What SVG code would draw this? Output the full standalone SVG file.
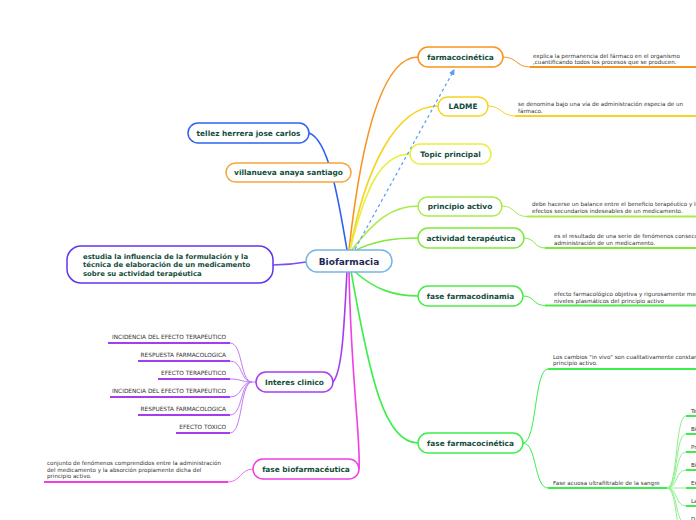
<svg xmlns="http://www.w3.org/2000/svg" width="696" height="520" viewBox="0 0 696 520">
<defs>
<marker id="arr" markerWidth="6" markerHeight="6" refX="5" refY="3" orient="auto" markerUnits="userSpaceOnUse">
<path d="M0,0 L6,3 L0,6 z" fill="#5b9cf0"/>
</marker>
<style>
.n{fill:#fff;stroke-width:1.5}
.t{font-family:"DejaVu Sans",Verdana,sans-serif;font-weight:bold;font-size:7.4px;fill:#124d3a;text-anchor:middle}
.d{font-family:"DejaVu Sans",Verdana,sans-serif;font-size:5.6px;fill:#333}
.c{fill:none;stroke-width:1.6;stroke-linecap:round}
.u{fill:none;stroke-width:2}
.s{fill:none;stroke-width:1}
</style>
</defs>
<rect width="696" height="520" fill="#fff"/>
<g id="connectors">
<path class="c" d="M349,250 C360,150 380,57 418,57" stroke="#f7941d"/>
<path class="c" d="M350,250 C365,170 395,106 438,106" stroke="#f5d320"/>
<path class="c" d="M350,250 C365,190 380,154 410,154" stroke="#e6f040"/>
<path class="c" d="M351,251 C375,220 392,206 418,206" stroke="#a8ec4a"/>
<path class="c" d="M352,252 C375,240 395,238 418,238" stroke="#7eea3a"/>
<path class="c" d="M354,271 C375,290 395,296 418,296" stroke="#4cea48"/>
<path class="c" d="M351,271 C370,380 385,443 418,443" stroke="#3cee4c"/>
<path class="c" d="M349,271 C351,380 361,440 359,469" stroke="#f03ee4"/>
<path class="c" d="M347,271 C344,330 342,372 333,382" stroke="#a43cf0"/>
<path class="c" d="M347,250 C340,210 330,140 309,133" stroke="#2e63f0"/>
<path class="c" d="M306,262 C295,264 285,265 273,265" stroke="#7a50f0"/>
<path d="M355,249 L454,70" fill="none" stroke="#5b9cf0" stroke-width="1.2" stroke-dasharray="3,3" marker-end="url(#arr)"/>
<path class="s" d="M503,57 C517,57 516,67 530,67" stroke="#f7941d"/>
<path class="u" d="M530,67 L696,67" stroke="#f7941d"/>
<path class="s" d="M488,106 C501,106 502,116 515,116" stroke="#f5d320"/>
<path class="u" d="M515,116 L696,116" stroke="#f5d320"/>
<path class="s" d="M502,206 C515,206 514,216.5 527,216.5" stroke="#a8ec4a"/>
<path class="u" d="M527,216.5 L696,216.5" stroke="#a8ec4a"/>
<path class="s" d="M524,238 C535,238 534,248 545,248" stroke="#7eea3a"/>
<path class="u" d="M545,248 L696,248" stroke="#7eea3a"/>
<path class="s" d="M523,296 C535,296 533,305.5 545,305.5" stroke="#4cea48"/>
<path class="u" d="M545,305.5 L696,305.5" stroke="#4cea48"/>
<path class="s" d="M523,443 C537,443 534,369 548,369" stroke="#3cee4c"/>
<path class="u" d="M548,369 L696,369" stroke="#3cee4c"/>
<path class="s" d="M523,443 C537,443 534,488 548,488" stroke="#3cee4c"/>
<path class="u" d="M548,488 L667,488" stroke="#3cee4c"/>
<g stroke="#8ef08e" fill="none" stroke-width="1">
<path d="M667,488 C678,488 675,416 686,416"/>
<path d="M667,488 C678,488 675,434 686,434"/>
<path d="M667,488 C678,488 675,452 686,452"/>
<path d="M667,488 C678,488 675,470 686,470"/>
<path d="M667,488 L686,488"/>
<path d="M667,488 C678,488 675,506 686,506"/>
<path d="M667,488 C678,488 675,524 686,524"/>
<path d="M667,488 C678,488 675,542 686,542"/>
</g>
<g stroke="#3cee4c" stroke-width="2">
<path d="M686,416 L696,416"/>
<path d="M686,434 L696,434"/>
<path d="M686,452 L696,452"/>
<path d="M686,470 L696,470"/>
<path d="M686,488 L696,488"/>
<path d="M686,506 L696,506"/>
</g>
<g stroke="#c27af2" fill="none" stroke-width="1">
<path d="M230,343 C243,343 240,382 252,382"/>
<path d="M230,361 C243,361 240,382 252,382"/>
<path d="M230,379 C243,379 240,382 252,382"/>
<path d="M230,397 C243,397 240,382 252,382"/>
<path d="M230,415 C243,415 240,382 252,382"/>
<path d="M230,433 C243,433 240,382 252,382"/>
<path d="M252,382 L256,382"/>
</g>
<g stroke="#a43cf0" stroke-width="2">
<path d="M108,343 L230,343"/>
<path d="M138,361 L230,361"/>
<path d="M158,379 L230,379"/>
<path d="M110,397 L230,397"/>
<path d="M138,415 L230,415"/>
<path d="M176,433 L230,433"/>
</g>
<path class="s" d="M228,482 C240,482 241,469 253,469" stroke="#f070e8"/>
<path class="u" d="M44,482 L228,482" stroke="#f03ee4"/>
</g>
<g id="biofarmacia">
<rect class="n" x="306" y="250" width="86" height="22" rx="11" stroke="#74b4e4"/>
<text x="349" y="264.5" class="t" style="font-size:9px;fill:#1b2a55">Biofarmacia</text>
</g>
<g id="farmacocinetica">
<rect class="n" x="418" y="47" width="85" height="20" rx="10" stroke="#f7941d"/>
<text x="460.5" y="59.5" class="t">farmacocinética</text>
<text class="d" x="533" y="57.5">explica la permanencia del fármaco en el organismo</text>
<text class="d" x="533" y="64">,cuantificando todos los procesos que se producen.</text>
</g>
<g id="ladme">
<rect class="n" x="438" y="97" width="50" height="19" rx="9.5" stroke="#f5d320"/>
<text x="463" y="109" class="t">LADME</text>
<text class="d" x="518" y="106">se denomina bajo una vía de administración especia de un</text>
<text class="d" x="518" y="112.5">fármaco.</text>
</g>
<g id="topic">
<rect class="n" x="410" y="144" width="81" height="20" rx="10" stroke="#e6f040"/>
<text x="450.5" y="156.5" class="t">Topic principal</text>
</g>
<g id="principio">
<rect class="n" x="418" y="197" width="84" height="19" rx="9.5" stroke="#a8ec4a"/>
<text x="460" y="209" class="t">principio activo</text>
<text class="d" x="532" y="206">debe hacerse un balance entre el beneficio terapéutico y lo</text>
<text class="d" x="532" y="212.5">efectos secundarios indeseables de un medicamento.</text>
</g>
<g id="actividad">
<rect class="n" x="418" y="228" width="106" height="20" rx="10" stroke="#7eea3a"/>
<text x="471" y="240.5" class="t">actividad terapéutica</text>
<text class="d" x="554" y="238">es el resultado de una serie de fenómenos consecu</text>
<text class="d" x="554" y="244.5">administración de un medicamento.</text>
</g>
<g id="farmacodinamia">
<rect class="n" x="418" y="286" width="105" height="20" rx="10" stroke="#4cea48"/>
<text x="470.5" y="298.5" class="t">fase farmacodinamia</text>
<text class="d" x="554" y="296">efecto farmacológico objetiva y rigurosamente med</text>
<text class="d" x="554" y="302.5">niveles plasmáticos del principio activo</text>
</g>
<g id="fase-farmacocinetica">
<rect class="n" x="418" y="433" width="105" height="20" rx="10" stroke="#3cee4c"/>
<text x="470.5" y="445.5" class="t">fase farmacocinética</text>
<text class="d" x="553" y="358.5">Los cambios "in vivo" son cualitativamente constant</text>
<text class="d" x="553" y="365">principio activo.</text>
<text class="d" x="553" y="484.5">Fase acuosa ultrafiltrable de la sangre</text>
<text class="d" x="691" y="412.5">Te</text>
<text class="d" x="691" y="430.5">Bi</text>
<text class="d" x="691" y="448.5">Pr</text>
<text class="d" x="691" y="466.5">Bi</text>
<text class="d" x="691" y="484.5">Es</text>
<text class="d" x="691" y="502.5">La</text>
<text class="d" x="691" y="520.5">D</text>
</g>
<g id="tellez">
<rect class="n" x="188" y="123" width="121" height="20" rx="10" stroke="#2e63f0"/>
<text x="248.5" y="135.5" class="t">tellez herrera jose carlos</text>
</g>
<g id="villanueva">
<rect class="n" x="226" y="163" width="125" height="19" rx="9.5" stroke="#f7a43a"/>
<text x="288.5" y="175" class="t">villanueva anaya santiago</text>
</g>
<g id="estudia">
<rect class="n" x="67" y="246" width="206" height="37" rx="14" stroke="#6234ec"/>
<text class="t" style="text-anchor:start;font-size:6.9px" x="83" y="258.5">estudia la influencia de la formulación y la</text>
<text class="t" style="text-anchor:start;font-size:6.9px" x="83" y="267">técnica de elaboración de un medicamento</text>
<text class="t" style="text-anchor:start;font-size:6.9px" x="83" y="275.5">sobre su actividad terapéutica</text>
</g>
<g id="interes">
<rect class="n" x="256" y="372" width="77" height="20" rx="10" stroke="#a43cf0"/>
<text x="294.5" y="384.5" class="t">Interes clinico</text>
<g class="d" style="text-anchor:end;font-size:5.8px">
<text x="226" y="339">INCIDENCIA DEL EFECTO  TERAPÉUTICO</text>
<text x="226" y="357">RESPUESTA FARMACOLOGICA</text>
<text x="226" y="375">EFECTO TERAPÉUTICO</text>
<text x="226" y="393">INCIDENCIA DEL EFECTO TERAPÉUTICO</text>
<text x="226" y="411">RESPUESTA FARMACOLOGICA</text>
<text x="226" y="429">EFECTO TÓXICO</text>
</g>
</g>
<g id="biofarmaceutica">
<rect class="n" x="253" y="459" width="106" height="20" rx="10" stroke="#f03ee4"/>
<text x="306" y="471.5" class="t">fase biofarmacéutica</text>
<text class="d" x="47" y="465">conjunto de fenómenos comprendidos entre la administración</text>
<text class="d" x="47" y="471.5">del medicamento y la absorción propiamente dicha del</text>
<text class="d" x="47" y="478">principio activo.</text>
</g>
</svg>
